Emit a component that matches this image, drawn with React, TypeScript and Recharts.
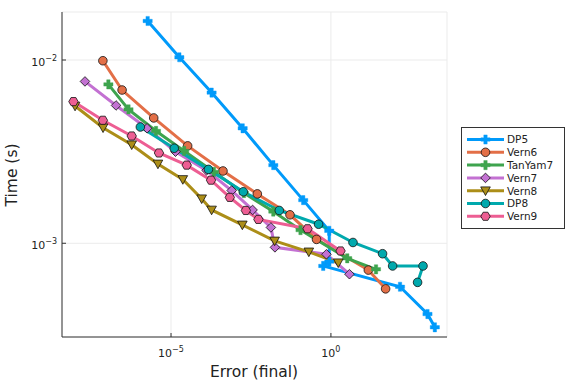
import { LineChart, Line, XAxis, YAxis, CartesianGrid, Legend } from "recharts";

const seriesNames = ["DP5", "Vern6", "TanYam7", "Vern7", "Vern8", "DP8", "Vern9"];
const seriesColors = ["#009AFA", "#E36F47", "#3EA44E", "#C371D2", "#AC8E18", "#00A9AD", "#ED5E93"];
const seriesMarkers = ["cross", "circle", "cross", "diamond", "dtriangle", "circle", "hexagon"];

const dp5Error = [1.86e-6, 1.82e-5, 1.86e-4, 1.74e-3, 0.0158, 0.136, 0.885, 0.89, 0.575, 145, 1047, 1778];
const dp5Time = [0.01633, 0.01035, 0.00664, 0.00424, 0.00267, 0.00172, 0.00117, 0.000794, 0.000752, 0.000579, 0.000411, 0.000348];

const vern6Error = [7.4e-8, 2.95e-7, 2.88e-6, 3.31e-5, 4.22e-4, 5.0e-3, 0.0525, 0.355, 14.8, 51.3];
const vern6Time = [0.00991, 0.00686, 0.00483, 0.0034, 0.00248, 0.00186, 0.00143, 0.00105, 0.000714, 0.000564];

const tanYam7Error = [1.1e-7, 4.68e-7, 3.39e-6, 2.57e-5, 2.19e-4, 1.91e-3, 0.0158, 0.112, 3.24, 25.7];
const tanYam7Time = [0.00736, 0.00538, 0.0041, 0.00319, 0.00245, 0.00188, 0.00149, 0.00118, 0.000828, 0.000721];

const vern7Error = [2.04e-8, 1.91e-7, 1.78e-6, 1.38e-5, 1.29e-4, 7.9e-4, 3.55e-3, 0.0133, 0.0178, 0.724, 3.8];
const vern7Time = [0.00764, 0.00565, 0.00424, 0.00316, 0.0025, 0.00194, 0.00152, 0.00122, 0.00095, 0.000871, 0.000678];

const vern8Error = [1.0e-8, 7.5e-8, 5.9e-7, 3.9e-6, 2.34e-5, 9.1e-5, 1.86e-4, 1.7e-3, 0.0174, 0.204, 1.7];
const vern8Time = [0.00561, 0.00427, 0.00345, 0.00271, 0.00223, 0.00175, 0.00152, 0.00126, 0.00103, 0.000898, 0.000783];

const dp8Error = [1.1e-6, 1.26e-5, 1.48e-4, 1.82e-3, 0.0243, 0.412, 4.9, 41.2, 85, 759, 513];
const dp8Time = [0.00431, 0.0033, 0.00253, 0.00191, 0.00151, 0.00127, 0.00101, 0.000877, 0.000752, 0.000752, 0.000612];

const vern9Error = [8.9e-9, 7.4e-8, 5.9e-7, 4.2e-6, 3.1e-5, 1.78e-4, 6.9e-4, 2.19e-3, 5.4e-3, 0.186, 2.0];
const vern9Time = [0.00593, 0.00469, 0.00385, 0.00311, 0.00267, 0.00221, 0.00178, 0.00151, 0.00135, 0.0012, 0.000908];

const xTicks = [1e-5, 1];
const yTicks = [1e-3, 1e-2];
const xTickExp = ["\u22125", "0"];
const yTickExp = ["\u22123", "\u22122"];

const errorLists = [dp5Error, vern6Error, tanYam7Error, vern7Error, vern8Error, dp8Error, vern9Error];
const timeLists = [dp5Time, vern6Time, tanYam7Time, vern7Time, vern8Time, dp8Time, vern9Time];

const series = seriesNames.map((name, i) => ({
  name,
  color: seriesColors[i],
  marker: seriesMarkers[i],
  data: errorLists[i].map((e, j) => ({ e, t: timeLists[i][j] })),
}));

const FONT = "'DejaVu Sans', sans-serif";

function Marker({ kind, cx, cy, color }: { kind: string; cx: number; cy: number; color: string }) {
  if (kind === "cross") {
    const a = 4.6;
    const w = 1.7;
    const d = `M${cx - w},${cy - a}H${cx + w}V${cy - w}H${cx + a}V${cy + w}H${cx + w}V${cy + a}H${cx - w}V${cy + w}H${cx - a}V${cy - w}H${cx - w}Z`;
    return <path d={d} fill={color} stroke={color} strokeWidth={0.4} />;
  }
  if (kind === "circle") {
    return <circle cx={cx} cy={cy} r={4.3} fill={color} stroke="#111" strokeWidth={0.8} />;
  }
  if (kind === "diamond") {
    const s = 4.8;
    return (
      <polygon
        points={`${cx},${cy - s} ${cx + s},${cy} ${cx},${cy + s} ${cx - s},${cy}`}
        fill={color}
        stroke="#111"
        strokeWidth={0.8}
      />
    );
  }
  if (kind === "dtriangle") {
    return (
      <polygon
        points={`${cx - 4.8},${cy - 3.8} ${cx + 4.8},${cy - 3.8} ${cx},${cy + 4.8}`}
        fill={color}
        stroke="#111"
        strokeWidth={0.8}
      />
    );
  }
  const pts = [0, 1, 2, 3, 4, 5]
    .map((k) => {
      const ang = (Math.PI / 3) * k;
      return `${cx + 4.7 * Math.cos(ang)},${cy + 4.7 * Math.sin(ang)}`;
    })
    .join(" ");
  return <polygon points={pts} fill={color} stroke="#111" strokeWidth={0.8} />;
}

function XTick(props: any) {
  const { x, y, index } = props;
  return (
    <g>
      <line x1={x} x2={x} y1={y - 4} y2={y} stroke="#333" strokeWidth={1} />
      <text x={x} y={y + 20} textAnchor="middle" fontFamily={FONT} fontSize={11} fill="#222">
        10
        <tspan dy={-5} fontSize={8}>
          {xTickExp[index]}
        </tspan>
      </text>
    </g>
  );
}

function YTick(props: any) {
  const { x, y, index } = props;
  return (
    <g>
      <line x1={x} x2={x + 4} y1={y} y2={y} stroke="#333" strokeWidth={1} />
      <text x={x - 5} y={y + 6} textAnchor="end" fontFamily={FONT} fontSize={11} fill="#222">
        10
        <tspan dy={-5} fontSize={8}>
          {yTickExp[index]}
        </tspan>
      </text>
    </g>
  );
}

function LegendBox() {
  return (
    <svg width={105} height={103} style={{ display: "block" }}>
      <rect x={0.5} y={0.5} width={103} height={101} fill="#fff" stroke="#333" strokeWidth={1} />
      {series.map((s, i) => {
        const y = 12.5 + i * 12.8;
        return (
          <g key={s.name}>
            <line x1={6} x2={43} y1={y} y2={y} stroke={s.color} strokeWidth={3} />
            <Marker kind={s.marker} cx={24.5} cy={y} color={s.color} />
            <text x={46} y={y + 3.8} fontFamily={FONT} fontSize={10.5} fill="#222">
              {s.name}
            </text>
          </g>
        );
      })}
    </svg>
  );
}

export default function App() {
  return (
    <div style={{ position: "absolute", left: 0, top: 0, background: "#fff" }}>
      <LineChart width={576} height={384} margin={{ top: 12, right: 129, left: 0, bottom: 0 }}>
        <CartesianGrid stroke="#ebebeb" strokeWidth={1} />
        <XAxis
          type="number"
          dataKey="e"
          scale="log"
          domain={[3.9e-9, 4266]}
          allowDataOverflow
          ticks={xTicks}
          tick={<XTick />}
          tickLine={false}
          tickSize={0}
          tickMargin={0}
          height={47}
          axisLine={{ stroke: "#333", strokeWidth: 1 }}
          label={{
            content: () => (
              <text x={254} y={377} textAnchor="middle" fontFamily={FONT} fontSize={15.5} fill="#222">
                Error (final)
              </text>
            ),
          }}
        />
        <YAxis
          type="number"
          dataKey="t"
          scale="log"
          domain={[3.08e-4, 0.01828]}
          allowDataOverflow
          ticks={yTicks}
          tick={<YTick />}
          tickLine={false}
          tickSize={0}
          tickMargin={0}
          width={62}
          axisLine={{ stroke: "#333", strokeWidth: 1 }}
          label={{
            content: () => (
              <text
                x={0}
                y={0}
                transform="translate(17,175) rotate(-90)"
                textAnchor="middle"
                fontFamily={FONT}
                fontSize={15.5}
                fill="#222"
              >
                Time (s)
              </text>
            ),
          }}
        />
        {series.map((s) => (
          <Line
            key={s.name}
            data={s.data}
            dataKey="t"
            name={s.name}
            type="linear"
            stroke={s.color}
            strokeWidth={3}
            isAnimationActive={false}
            dot={(p: any) =>
              p.cx == null ? (
                <g key={p.index} />
              ) : (
                <Marker key={p.index} kind={s.marker} cx={p.cx} cy={p.cy} color={s.color} />
              )
            }
            activeDot={false}
          />
        ))}
        <Legend
          layout="vertical"
          align="center"
          verticalAlign="middle"
          wrapperStyle={{ left: 461, top: 127, width: 105, height: 103 }}
          content={() => <LegendBox />}
        />
      </LineChart>
    </div>
  );
}
